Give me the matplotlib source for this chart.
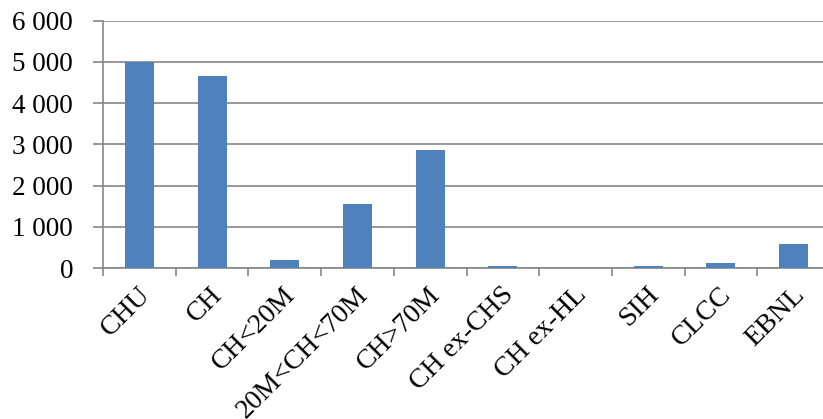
import numpy as np
import matplotlib.pyplot as plt
import matplotlib.transforms as mtransforms
from matplotlib.ticker import FuncFormatter, FixedLocator

categories = ['CHU', 'CH', 'CH<20M', '20M<CH<70M', 'CH>70M',
              'CH ex-CHS', 'CH ex-HL', 'SIH', 'CLCC', 'EBNL']
values = [5000, 4650, 200, 1550, 2870, 50, 0, 50, 110, 580]

plt.rcParams['font.family'] = ['Liberation Serif', 'DejaVu Serif']

fig = plt.figure(figsize=(8.23, 4.19), dpi=100)
ax = fig.add_axes([103/823, 151/419, 727/823, 247.3/419])

x = np.arange(len(categories))
ax.bar(x, values, width=0.4, color='#4F81BD', zorder=3)

ax.set_xlim(-0.5, len(categories) - 0.5)
ax.set_ylim(0, 6000)
ax.set_yticks(np.arange(0, 6001, 1000))
ax.yaxis.set_major_formatter(FuncFormatter(lambda v, p: '{:,}'.format(int(v)).replace(',', ' ')))
ax.grid(axis='y', color='#868686', linewidth=1.2, zorder=0)

ax.set_xticks(x)
ax.set_xticklabels(categories, rotation=45, ha='right', rotation_mode='anchor')
ax.xaxis.set_minor_locator(FixedLocator(np.arange(-0.5, len(categories), 1)))
ax.tick_params(axis='x', which='major', length=0, pad=10, labelsize=20)
ax.tick_params(axis='x', which='minor', length=6, width=1.2, color='#868686', direction='out')
ax.tick_params(axis='y', length=7, width=1.2, color='#868686', labelsize=19.5, pad=14.5)

shift = mtransforms.ScaledTranslation(-2/100, 0, fig.dpi_scale_trans)
for lab in ax.get_xticklabels():
    lab.set_transform(lab.get_transform() + shift)

for s in ['top', 'right']:
    ax.spines[s].set_visible(False)
for s in ['left', 'bottom']:
    ax.spines[s].set_color('#868686')
    ax.spines[s].set_linewidth(1.2)

plt.savefig('out.png', dpi=100)
